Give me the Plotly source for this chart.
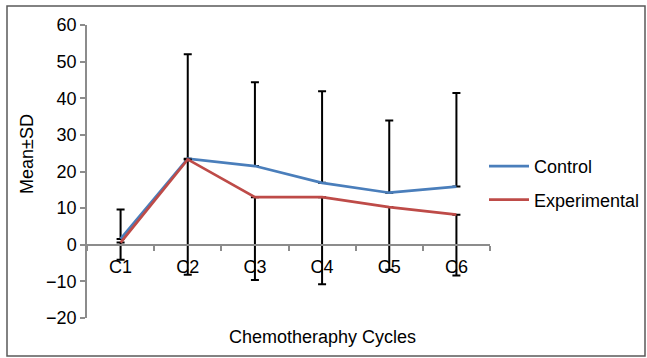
import plotly.graph_objects as go

# Chemotherapy cycles and group means with SD
cycles = ["C1", "C2", "C3", "C4", "C5", "C6"]
control_mean = [1.6, 23.5, 21.5, 16.9, 14.2, 15.9]
control_sd = [8.0, 28.5, 22.9, 25.0, 19.7, 25.5]
experimental_mean = [0.6, 23.3, 13.0, 13.0, 10.3, 8.2]
experimental_sd = [4.7, 31.5, 22.6, 23.8, 17.1, 16.6]
y_ticks = [-20, -10, 0, 10, 20, 30, 40, 50, 60]

W, H = 647, 358
L, R, T, B = 87, 157, 25, 40
pw, ph = W - L - R, H - T - B

FONT = "Liberation Sans, Arial, sans-serif"
AXIS_GREY = "#8c8c8c"

fig = go.Figure()

fig.add_trace(go.Scatter(
    x=cycles, y=control_mean, name="Control", mode="lines",
    line=dict(color="#4A7EBB", width=2.75),
    error_y=dict(type="data", symmetric=False, array=control_sd,
                 arrayminus=[0] * len(cycles), color="black",
                 thickness=2, width=4),
    legendgroup="c",
))
fig.add_trace(go.Scatter(
    x=cycles, y=experimental_mean, name="Experimental", mode="lines",
    line=dict(color="#BE4B48", width=2.75),
    error_y=dict(type="data", symmetric=False, array=[0] * len(cycles),
                 arrayminus=experimental_sd, color="black",
                 thickness=2, width=4),
    legendgroup="e",
))

y_min, y_max = y_ticks[0], y_ticks[-1]
zero_pos = (0 - y_min) / (y_max - y_min)


def px_x(p):
    return (p - L) / pw


def px_y(p):
    return (H - B - p) / ph


fig.update_layout(
    width=W, height=H,
    margin=dict(l=L, r=R, t=T, b=B, autoexpand=False),
    paper_bgcolor="white", plot_bgcolor="white",
    font=dict(family=FONT, size=18, color="black"),
    showlegend=True,
    legend=dict(
        x=px_x(484), y=px_y(148), xanchor="left", yanchor="top",
        font=dict(size=18), tracegroupgap=7, itemwidth=40,
        bgcolor="rgba(0,0,0,0)", borderwidth=0,
    ),
    xaxis=dict(
        type="category", range=[-0.5, len(cycles) - 0.5],
        anchor="free", position=zero_pos,
        showline=True, linecolor=AXIS_GREY, linewidth=1.5,
        ticks="outside", tickson="boundaries", ticklen=5,
        tickcolor=AXIS_GREY, tickwidth=1.5,
        showgrid=False, zeroline=False,
        tickfont=dict(size=18), ticklabelstandoff=6,
    ),
    yaxis=dict(
        range=[y_min, y_max], tickvals=y_ticks,
        showline=True, linecolor=AXIS_GREY, linewidth=1.5,
        ticks="outside", ticklen=5, tickcolor=AXIS_GREY, tickwidth=1.5,
        showgrid=False, zeroline=False,
        tickfont=dict(size=18), ticklabelstandoff=0,
    ),
    annotations=[
        dict(text="Chemotheraphy Cycles", xref="paper", yref="paper",
             x=px_x(322), y=px_y(337), showarrow=False,
             font=dict(size=18), xanchor="center", yanchor="middle"),
        dict(text="Mean±SD", xref="paper", yref="paper",
             x=px_x(27), y=px_y(154), showarrow=False, textangle=-90,
             font=dict(size=18), xanchor="center", yanchor="middle"),
    ],
    shapes=[
        dict(type="rect", xref="paper", yref="paper",
             x0=px_x(7), x1=px_x(645), y0=px_y(356), y1=px_y(6),
             line=dict(color="#5a5a5a", width=1.5), layer="below"),
    ],
)

fig.write_html("out.html")
